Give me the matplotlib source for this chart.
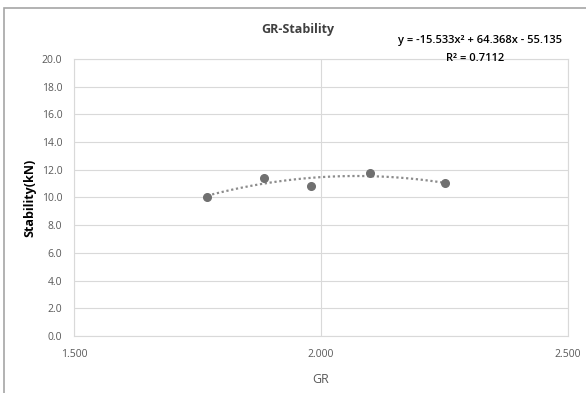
import matplotlib.pyplot as plt
import numpy as np
from matplotlib.patches import Rectangle

plt.rcParams["font.family"] = ["Open Sans", "DejaVu Sans"]

gr = [1.77, 1.885, 1.98, 2.10, 2.25]
stability = [10.05, 11.4, 10.85, 11.8, 11.05]
coef = [-15.533, 64.368, -55.135]
r2 = 0.7112

x_ticks = [1.5, 2.0, 2.5]
y_ticks = np.arange(0, 20.1, 2.0)

fig = plt.figure(figsize=(5.86, 3.93), dpi=100)
ax = fig.add_axes([0.1263, 0.145, 0.843, 0.705])

xs = np.linspace(min(gr), max(gr), 100)
ax.plot(xs, np.polyval(coef, xs), linestyle=(0, (1, 1.2)), color="#8c8c8c", linewidth=1.6, zorder=2)
ax.plot(gr, stability, "o", color="#707070", markersize=5.5, zorder=3)

ax.set_xlim(1.5, 2.5)
ax.set_ylim(0, 20)
ax.set_xticks(x_ticks)
ax.set_xticklabels([f"{v:.3f}" for v in x_ticks])
ax.set_yticks(y_ticks)
ax.set_yticklabels([f"{v:.1f}" for v in y_ticks])
ax.tick_params(length=0, labelsize=7.5, labelcolor="#595959", pad=8.5)
ax.tick_params(axis="x", pad=9)
ax.grid(True, color="#d9d9d9", linewidth=0.8)
ax.set_axisbelow(True)
for s in ax.spines.values():
    s.set_color("#d9d9d9")
    s.set_linewidth(0.8)

ax.set_xlabel("GR", fontsize=9, color="#595959", labelpad=10)
ax.set_ylabel("Stability(kN)", fontsize=9, fontweight="bold", color="black", labelpad=3.5)
fig.text(0.509, 0.926, "GR-Stability", ha="center", va="center", fontsize=9, fontweight="bold", color="#404040")
fig.text(0.819, 0.898, "y = -15.533x² + 64.368x - 55.135", ha="center", va="center",
         fontsize=8, fontweight="semibold", color="black")
fig.text(0.811, 0.852, f"R² = {r2}", ha="center", va="center", fontsize=8, fontweight="semibold", color="black")

fig.patches.append(Rectangle((4 / 586, -0.5), 2, 1.5 - 8 / 393, transform=fig.transFigure,
                             fill=False, edgecolor="#a6a6a6", linewidth=1.2))

fig.savefig("out.png", dpi=100)
